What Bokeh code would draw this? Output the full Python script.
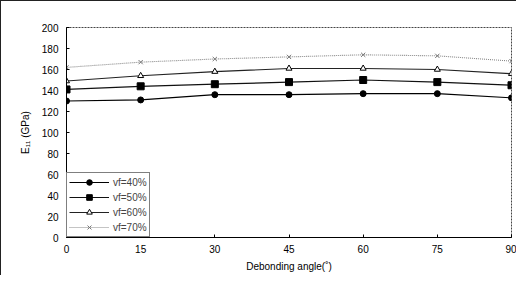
from bokeh.plotting import figure
from bokeh.embed import file_html
from bokeh.resources import INLINE
from bokeh.models import Legend, LegendItem, FixedTicker

angles = [0, 15, 30, 45, 60, 75, 90]
vf40 = [130, 131, 136, 136, 137, 137, 133]
vf50 = [141, 144, 146, 148, 150, 148, 145]
vf60 = [149, 154, 158, 161, 161, 160, 156]
vf70 = [162, 167, 170, 172, 174, 173, 168]
series_names = ["vf=40%", "vf=50%", "vf=60%", "vf=70%"]
x_ticks = [0, 15, 30, 45, 60, 75, 90]
y_ticks = [0, 20, 40, 60, 80, 100, 120, 140, 160, 180, 200]

FONT = "Liberation Sans"

p = figure(width=516, height=275, output_backend="svg", toolbar_location=None,
           x_range=(0, 90), y_range=(0, 200),
           min_border_left=65, min_border_right=6, min_border_top=26, min_border_bottom=39)
p.styles = {"border-left": "1px solid #222", "border-top": "1px solid #222"}
p.xgrid.visible = False
p.ygrid.visible = False
p.outline_line_color = "#444"
p.outline_line_dash = "2 1"

p.xaxis.ticker = FixedTicker(ticks=x_ticks)
p.yaxis.ticker = FixedTicker(ticks=y_ticks)
for ax in (p.xaxis[0], p.yaxis[0]):
    ax.major_tick_in = 3
    ax.major_tick_out = 0
    ax.minor_tick_in = 0
    ax.minor_tick_out = 0
    ax.axis_line_color = "black"
    ax.major_tick_line_color = "black"
    ax.major_label_text_font = FONT
    ax.major_label_text_font_size = "10px"
    ax.major_label_text_color = "black"
    ax.axis_label_text_font = FONT
    ax.axis_label_text_font_size = "10px"
    ax.axis_label_text_font_style = "normal"
    ax.axis_label_text_color = "black"
p.xaxis.major_label_standoff = 7
p.yaxis.major_label_standoff = 8
p.xaxis.axis_label = "Debonding angle(\u02da)"
p.yaxis.axis_label = "E\u2081\u2081 (GPa)"
p.xaxis.axis_label_standoff = 5
p.yaxis.axis_label_standoff = 8

r1l = p.line(angles, vf40, line_color="black", line_width=1.2)
r1m = p.scatter(angles, vf40, marker="circle", size=6, fill_color="black", line_color="black")
r2l = p.line(angles, vf50, line_color="#111", line_width=1.2)
r2m = p.scatter(angles, vf50, marker="square", size=7, fill_color="black", line_color="black")
r3l = p.line(angles, vf60, line_color="#222", line_width=1.1)
r3m = p.scatter(angles, vf60, marker="triangle", size=6, fill_color="white", line_color="black")
r4l = p.line(angles, vf70, line_color="#888", line_width=1.1, line_dash="1 1")
r4m = p.scatter(angles, vf70, marker="x", size=6, line_color="#777")

legend = Legend(items=[
    LegendItem(label=series_names[0], renderers=[r1l, r1m]),
    LegendItem(label=series_names[1], renderers=[r2l, r2m]),
    LegendItem(label=series_names[2], renderers=[r3l, r3m]),
    LegendItem(label=series_names[3], renderers=[r4l, r4m]),
], location="bottom_left")
legend.margin = 0
legend.padding = 2
legend.spacing = 1
legend.glyph_width = 40
legend.glyph_height = 14
legend.label_height = 14
legend.label_standoff = 4
legend.label_text_font = FONT
legend.label_text_font_size = "10px"
legend.border_line_color = "black"
legend.border_line_width = 1
legend.background_fill_alpha = 1
p.add_layout(legend)

open("out.html", "w").write(file_html(p, INLINE))
